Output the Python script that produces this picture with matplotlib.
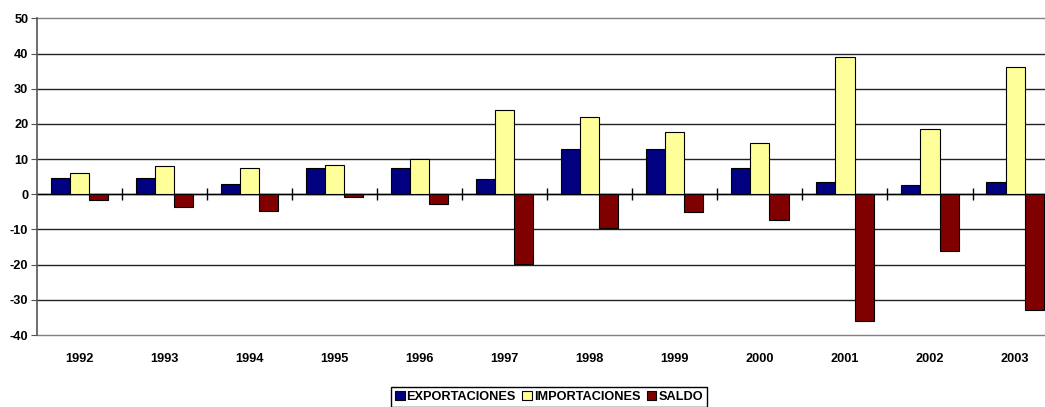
import numpy as np
import matplotlib
matplotlib.use('Agg')
import matplotlib.pyplot as plt

plt.rcParams['font.family'] = ['Liberation Sans', 'DejaVu Sans']
plt.rcParams['axes.unicode_minus'] = False

# Data
years = ['1992', '1993', '1994', '1995', '1996', '1997',
         '1998', '1999', '2000', '2001', '2002', '2003']
exportaciones = [4.5, 4.7, 2.8, 7.6, 7.4, 4.3, 12.9, 12.9, 7.4, 3.4, 2.6, 3.6]
importaciones = [6.0, 8.0, 7.4, 8.2, 9.9, 23.9, 22.0, 17.6, 14.5, 39.1, 18.5, 36.3]
saldo = [-1.6, -3.5, -4.8, -0.8, -2.8, -19.8, -9.5, -5.0, -7.3, -35.9, -16.0, -32.9]

fig = plt.figure(figsize=(10.45, 4.07), dpi=100)
# axes run slightly past the right edge, as in the cropped original
ax = fig.add_axes([0.0351, 0.1769, 0.977, 0.778])

x = np.arange(len(years))
w = 0.225
ax.bar(x - w, exportaciones, w, color='#000080', edgecolor='black', linewidth=0.8,
       label='EXPORTACIONES', zorder=3)
ax.bar(x, importaciones, w, color='#FFFF99', edgecolor='black', linewidth=0.8,
       label='IMPORTACIONES', zorder=3)
ax.bar(x + w, saldo, w, color='#800000', edgecolor='black', linewidth=0.8,
       label='SALDO', zorder=3)

ax.set_xlim(-0.5, len(years) - 0.5)
ax.set_ylim(-40, 50)
ax.set_yticks(np.arange(-40, 51, 10))
ax.yaxis.grid(True, color='#222222', linewidth=1, clip_on=False)
ax.set_axisbelow(True)
# outer gridlines are lighter in the original
gl = ax.get_ygridlines()
gl[0].set_color('#808080')
gl[-1].set_color('#808080')

# zero line with category separators
ax.axhline(0, color='black', linewidth=1, zorder=2)
ax.plot(x[:-1] + 0.5, np.zeros(len(years) - 1), linestyle='none', marker='|',
        markersize=8, markeredgewidth=1, color='black', zorder=2)

ax.set_xticks(x)
ax.set_xticklabels(years)
ax.tick_params(axis='x', length=0, pad=13)
ax.tick_params(axis='y', length=4, color='#555555', pad=2)
for lab in ax.get_xticklabels() + ax.get_yticklabels():
    lab.set_fontsize(9.2)
    lab.set_fontweight('bold')

for s in ['top', 'right', 'bottom']:
    ax.spines[s].set_visible(False)
ax.spines['left'].set_color('#555555')
ax.spines['left'].set_linewidth(1.2)

fig.legend(loc='center', bbox_to_anchor=(549 / 1045, 1 - 397 / 407), ncol=3,
           prop={'size': 9.2, 'weight': 'bold'}, frameon=True, fancybox=False,
           edgecolor='black', framealpha=1, handlelength=0.75, handleheight=0.75,
           handletextpad=0.15, columnspacing=0.5, borderpad=0.3, borderaxespad=0)

fig.savefig('out.png', dpi=100)
